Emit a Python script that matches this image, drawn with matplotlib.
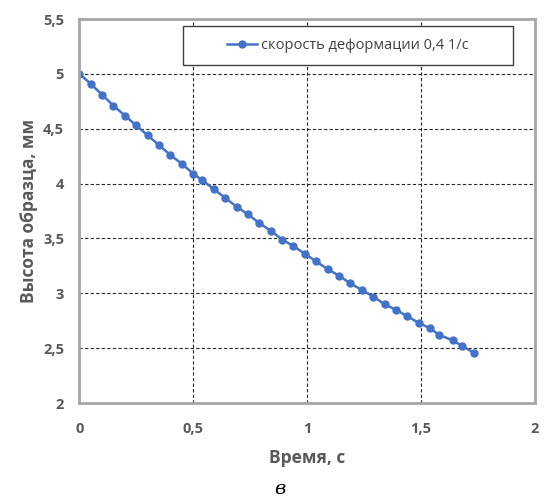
import matplotlib.pyplot as plt
from matplotlib.patches import Rectangle
from matplotlib.ticker import FuncFormatter

# time, s
time_s = [0.0, 0.05, 0.10, 0.15, 0.20, 0.25, 0.30, 0.35, 0.40, 0.45, 0.50, 0.54,
          0.59, 0.64, 0.69, 0.74, 0.79, 0.84, 0.89, 0.94, 0.99, 1.04, 1.09, 1.14,
          1.19, 1.24, 1.29, 1.34, 1.39, 1.44, 1.49, 1.54, 1.58, 1.64, 1.68, 1.73]
# sample height, mm
height_mm = [5.00, 4.91, 4.81, 4.71, 4.62, 4.53, 4.44, 4.35, 4.26, 4.18, 4.09, 4.03,
             3.95, 3.87, 3.79, 3.72, 3.64, 3.57, 3.49, 3.43, 3.36, 3.29, 3.22, 3.16,
             3.09, 3.03, 2.97, 2.90, 2.85, 2.79, 2.73, 2.68, 2.62, 2.57, 2.52, 2.46]
series_label = "скорость деформации 0,4 1/с"

xticks = [0, 0.5, 1, 1.5, 2]
yticks = [2, 2.5, 3, 3.5, 4, 4.5, 5, 5.5]

gray = "#595959"
blue = "#4472C4"

fig = plt.figure(figsize=(5.44, 4.97), dpi=100)
ax = fig.add_axes([0.1458, 0.1891, 0.8377, 0.7726])

ax.plot(time_s, height_mm, color=blue, lw=1.8, marker="o", ms=5, label=series_label)

ax.set_xlim(0, 2)
ax.set_ylim(2, 5.5)
ax.set_xticks(xticks)
ax.set_yticks(yticks)
comma = FuncFormatter(lambda v, p: f"{v:g}".replace(".", ","))
ax.xaxis.set_major_formatter(comma)
ax.yaxis.set_major_formatter(comma)

ax.grid(True, color="#262626", linestyle=(0, (3, 2)), linewidth=0.8)
ax.tick_params(axis="y", length=0, pad=11, labelcolor=gray)
ax.tick_params(axis="x", length=0, pad=14, labelcolor=gray)
for lab in ax.get_xticklabels() + ax.get_yticklabels():
    lab.set_fontfamily("Open Sans")
    lab.set_fontweight("bold")
    lab.set_fontsize(10.5)
for s in ax.spines.values():
    s.set_color("#A6A6A6")
    s.set_linewidth(2)

ax.set_xlabel("Время, с", fontsize=12.5, fontweight="bold", color=gray, family="Open Sans")
ax.set_ylabel("Высота образца, мм", fontsize=12.5, fontweight="bold", color=gray, family="Open Sans")
ax.xaxis.set_label_coords(0.5, -0.12)
ax.yaxis.set_label_coords(-0.09, 0.5)

# legend box
bx, bw, by, bh = 0.2276, 0.724, 0.880, 0.102
ax.add_patch(Rectangle((bx, by), bw, bh, transform=ax.transAxes, fill=True,
                       facecolor="white", edgecolor="#404040", lw=1, zorder=4))
leg = ax.legend(loc="center", bbox_to_anchor=(bx + bw / 2, by + bh / 2), frameon=False,
                prop={"family": "Open Sans", "size": 10.5}, handlelength=2.0,
                handletextpad=0.3, borderpad=0, borderaxespad=0)
leg.set_zorder(5)
for t in leg.get_texts():
    t.set_color("#404040")

fig.text(280 / 544, 1 - 489 / 497, "в", fontsize=14, style="italic", family="DejaVu Serif",
         ha="center", va="center")

fig.savefig("out.png", dpi=100)
